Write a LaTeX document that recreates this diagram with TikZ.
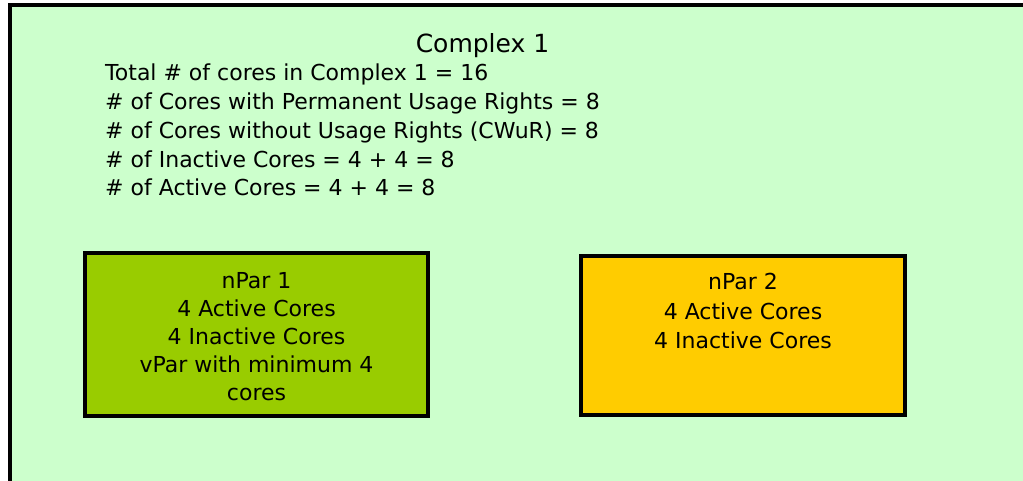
\documentclass[tikz,border=0pt]{standalone}
\usepackage{fontspec}
\setmainfont{DejaVu Sans}
\definecolor{complexbg}{HTML}{CCFFCC}
\definecolor{npargreen}{HTML}{99CC00}
\definecolor{nparyellow}{HTML}{FFCC00}
\begin{document}
\begin{tikzpicture}[x=1pt,y=-1pt,
  parbox/.style={draw=black,line width=4pt,inner sep=0pt},
  bodytext/.style={inner sep=0pt,font=\fontsize{22}{28}\selectfont},
  boxtext/.style={bodytext,align=center,anchor=north}]
\clip (0,0) rectangle (1023,481);
\draw[line width=4pt,fill=complexbg] (10,5) rectangle (1040,500);
\node[bodytext,anchor=base,font=\fontsize{25}{30}\selectfont] (title) at (482.5,53) {Complex 1};
\foreach \statline[count=\i from 0] in {
Total \# of cores in Complex 1 = 16,
\# of Cores with Permanent Usage Rights = 8,
\# of Cores without Usage Rights (CWuR) = 8,
\# of Inactive Cores = 4 + 4 = 8,
\# of Active Cores = 4 + 4 = 8}{\node[bodytext,anchor=base west] (stat\i) at (105,81+28.7*\i) {\statline};};
% the two nPars
\node[parbox,fill=npargreen,minimum width=343pt,minimum height=163pt] (npar1) at (256.5,334.5) {};
\node[parbox,fill=nparyellow,minimum width=324pt,minimum height=159pt] (npar2) at (743,335.5) {};
\node[boxtext] (npar1text) at (256.5,272) {nPar 1\\4 Active Cores\\4 Inactive Cores\\vPar with minimum 4\\cores};
\node[boxtext,font=\fontsize{22}{29.5}\selectfont] (npar2text) at (743,273) {nPar 2\\4 Active Cores\\4 Inactive Cores};
\end{tikzpicture}
\end{document}
